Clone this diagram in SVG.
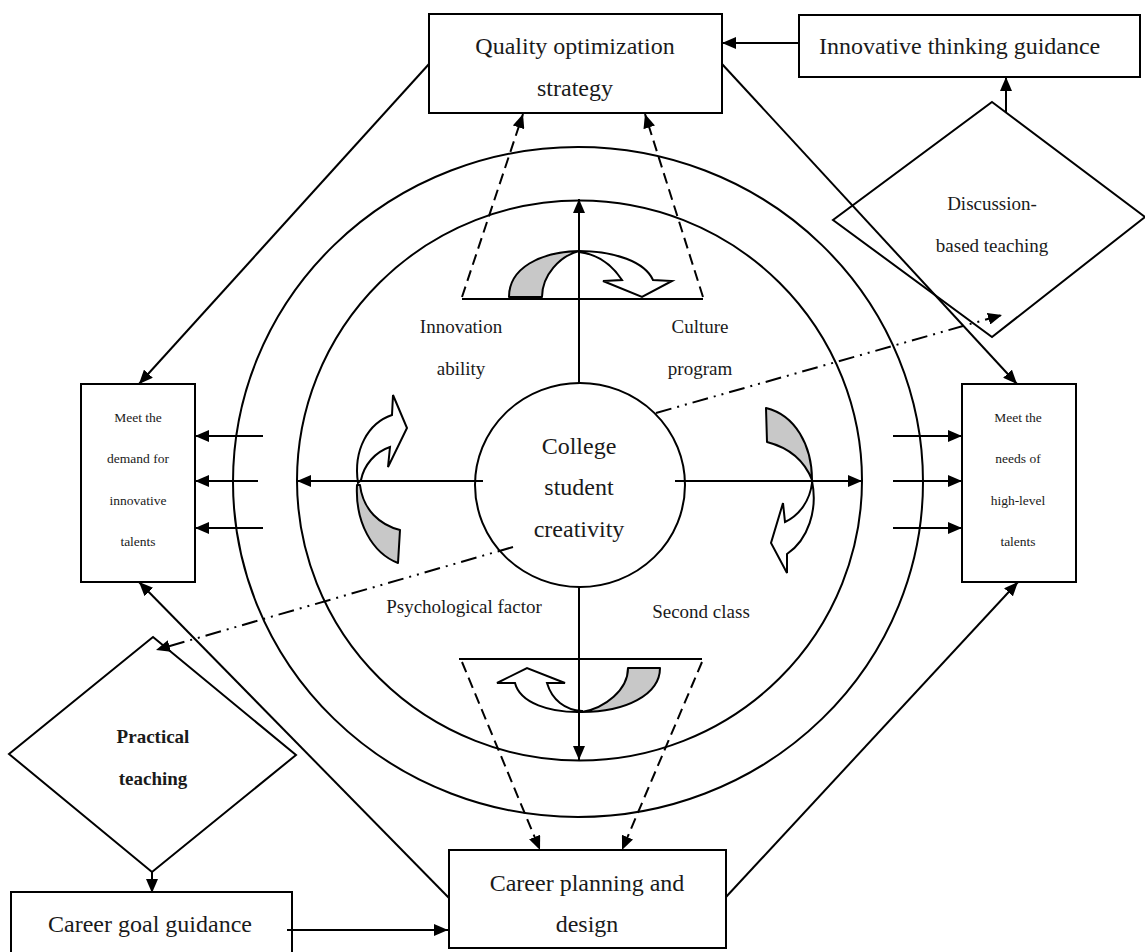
<svg xmlns="http://www.w3.org/2000/svg" width="1145" height="952" viewBox="0 0 1145 952">
<style>
.ln{fill:none;stroke:#000;stroke-width:2}
.box{fill:#fff;stroke:#000;stroke-width:2}
.dash{fill:none;stroke:#000;stroke-width:2;stroke-dasharray:11 6}
.dd{fill:none;stroke:#000;stroke-width:2;stroke-dasharray:16 6 2 6 2 6}
.t{font-family:"Liberation Serif","Times New Roman",serif;fill:#1a1a1a;text-anchor:middle}
.big{font-size:24px}
.mid{font-size:19px}
.sm{font-size:13.5px}
.gray{fill:#c8c8c8;stroke:#000;stroke-width:2;stroke-linejoin:round}
.wht{fill:#fff;stroke:#000;stroke-width:2;stroke-linejoin:miter}
</style>
<defs>
<marker id="ah" viewBox="0 0 14 12" markerWidth="14" markerHeight="12" refX="14" refY="6" orient="auto" markerUnits="userSpaceOnUse">
<path d="M0,0 L14,6 L0,12 Z" fill="#000"/>
</marker>
</defs>
<rect width="1145" height="952" fill="#fff"/>

<g id="rings">
<ellipse class="ln" cx="578" cy="482" rx="345" ry="335"/>
<ellipse class="ln" cx="579.5" cy="480.5" rx="282.5" ry="280"/>
</g>

<g id="center">
<ellipse class="box" cx="580" cy="485" rx="105" ry="102"/>
<text class="t big" x="579" y="454">College</text>
<text class="t big" x="579" y="495">student</text>
<text class="t big" x="579" y="537">creativity</text>
</g>

<g id="labels">
<text class="t mid" x="461" y="333">Innovation</text>
<text class="t mid" x="461" y="375">ability</text>
<text class="t mid" x="700" y="333">Culture</text>
<text class="t mid" x="700" y="375">program</text>
<text class="t mid" x="464" y="613">Psychological factor</text>
<text class="t mid" x="701" y="618">Second class</text>
</g>

<g id="curved-arrows">
<path class="gray" d="M509,297 C509,268 540,252 579,251 C560,256 542,275 542,297 Z"/>
<path class="wht" d="M579,251 C615,251 645,262 653,280 L672,281 L642,297 L603,281 L622,280 C612,265 597,254 579,252 Z"/>
<path class="gray" d="M357,485 C355,522 372,553 398,563 L400,530 C380,525 363,510 360,485 Z"/>
<path class="wht" d="M358,483 C353,450 368,423 392,415 L393,395 L407,428 L388,467 L390,447 C375,452 364,465 361,480 Z"/>
<path class="gray" d="M766,408 C795,415 812,445 812,480 C805,462 790,448 767,442 Z"/>
<path class="wht" d="M812,481 C818,510 808,540 787,554 L787,573 L771,543 L783,503 L785,522 C800,515 810,500 812,483 Z"/>
<path class="gray" d="M660,668 C660,695 625,712 582,712 C605,708 628,690 628,668 Z"/>
<path class="wht" d="M582,712 C550,713 520,703 515,683 L497,683 L527,668 L565,683 L547,683 C552,700 565,710 582,711 Z"/>
</g>

<g id="quality">
<rect class="box" x="429" y="14" width="293" height="99"/>
<text class="t big" x="575" y="54">Quality optimization</text>
<text class="t big" x="575" y="96">strategy</text>
</g>

<g id="innovative-thinking">
<rect class="box" x="799" y="15" width="341" height="62"/>
<text class="t big" x="819" y="54" style="text-anchor:start">Innovative thinking guidance</text>
</g>

<g id="discussion">
<polygon class="box" points="992,102 1145,217 992,337 833,220"/>
<text class="t mid" x="992" y="210">Discussion-</text>
<text class="t mid" x="992" y="252">based teaching</text>
</g>

<g id="left-box">
<rect class="box" x="81" y="384" width="114" height="198"/>
<text class="t sm" x="138" y="422">Meet the</text>
<text class="t sm" x="138" y="463">demand for</text>
<text class="t sm" x="138" y="505">innovative</text>
<text class="t sm" x="138" y="546">talents</text>
</g>

<g id="right-box">
<rect class="box" x="962" y="384" width="114" height="198"/>
<text class="t sm" x="1018" y="422">Meet the</text>
<text class="t sm" x="1018" y="463">needs of</text>
<text class="t sm" x="1018" y="505">high-level</text>
<text class="t sm" x="1018" y="546">talents</text>
</g>

<g id="practical">
<polygon class="box" points="153,637 296,755 152,872 9,754"/>
<text class="t mid" x="153" y="743" font-weight="bold">Practical</text>
<text class="t mid" x="153" y="785" font-weight="bold">teaching</text>
</g>

<g id="career-goal">
<rect class="box" x="11" y="892" width="281" height="62"/>
<text class="t big" x="150" y="932">Career goal guidance</text>
</g>

<g id="career-planning">
<rect class="box" x="449" y="850" width="277" height="98"/>
<text class="t big" x="587" y="891">Career planning and</text>
<text class="t big" x="587" y="932">design</text>
</g>

<g id="connectors">
<line class="ln" x1="579" y1="384" x2="579" y2="199" marker-end="url(#ah)"/>
<line class="ln" x1="579" y1="587" x2="579" y2="760" marker-end="url(#ah)"/>
<line class="ln" x1="483" y1="481" x2="297" y2="481" marker-end="url(#ah)"/>
<line class="ln" x1="675" y1="481" x2="862" y2="481" marker-end="url(#ah)"/>
<line class="ln" x1="462" y1="299" x2="703" y2="299"/>
<line class="ln" x1="459" y1="659" x2="702" y2="659"/>
<line class="dash" x1="462" y1="297" x2="523" y2="114" marker-end="url(#ah)"/>
<line class="dash" x1="703" y1="297" x2="645" y2="114" marker-end="url(#ah)"/>
<line class="dash" x1="462" y1="662" x2="540" y2="850" marker-end="url(#ah)"/>
<line class="dash" x1="702" y1="662" x2="622" y2="850" marker-end="url(#ah)"/>
<line class="ln" x1="799" y1="43" x2="722" y2="43" marker-end="url(#ah)"/>
<line class="ln" x1="1006" y1="112" x2="1006" y2="77" marker-end="url(#ah)"/>
<line class="ln" x1="429" y1="64" x2="139" y2="384" marker-end="url(#ah)"/>
<line class="ln" x1="722" y1="64" x2="1017" y2="384" marker-end="url(#ah)"/>
<line class="ln" x1="449" y1="898" x2="139" y2="582" marker-end="url(#ah)"/>
<line class="ln" x1="726" y1="897" x2="1018" y2="582" marker-end="url(#ah)"/>
<line class="ln" x1="263" y1="436" x2="195" y2="436" marker-end="url(#ah)"/>
<line class="ln" x1="258" y1="481" x2="195" y2="481" marker-end="url(#ah)"/>
<line class="ln" x1="263" y1="528" x2="195" y2="528" marker-end="url(#ah)"/>
<line class="ln" x1="893" y1="436" x2="962" y2="436" marker-end="url(#ah)"/>
<line class="ln" x1="893" y1="481" x2="962" y2="481" marker-end="url(#ah)"/>
<line class="ln" x1="893" y1="528" x2="962" y2="528" marker-end="url(#ah)"/>
<line class="ln" x1="152" y1="872" x2="152" y2="893" marker-end="url(#ah)"/>
<line class="ln" x1="287" y1="930" x2="448" y2="930" marker-end="url(#ah)"/>
<line class="dd" x1="656" y1="413" x2="1002" y2="315" marker-end="url(#ah)"/>
<line class="dd" x1="513" y1="547" x2="156" y2="650" marker-end="url(#ah)"/>
</g>
</svg>
